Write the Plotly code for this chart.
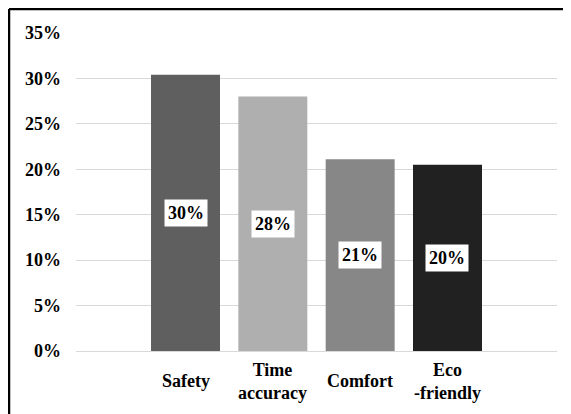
import plotly.graph_objects as go

categories = ["Safety", "Time accuracy", "Comfort", "Eco -friendly"]
category_labels = ["Safety", "Time<br>accuracy", "Comfort", "Eco<br>-friendly"]
values = [0.304, 0.280, 0.211, 0.205]
value_labels = ["30%", "28%", "21%", "20%"]
bar_colors = ["#5f5f5f", "#afafaf", "#878787", "#212121"]

W, H = 571, 414
ml, mr, mt, mb = 68, 22, 25, 71
pw, ph = W - ml - mr, H - mt - mb

font_family = "Liberation Serif"

fig = go.Figure()
fig.add_trace(go.Bar(
    x=categories, y=values,
    marker=dict(color=bar_colors, line=dict(width=0)),
    width=0.79,
    hoverinfo="skip",
))

annotations = []
for cat, v, lab in zip(categories, values, value_labels):
    annotations.append(dict(
        x=cat, y=v / 2, xref="x", yref="y", text=lab,
        showarrow=False, bgcolor="white", borderpad=3,
        font=dict(family=font_family, size=18, color="black", weight="bold"),
        xanchor="center", yanchor="middle",
    ))
for cat, lab in zip(categories, category_labels):
    annotations.append(dict(
        x=cat, y=-30 / ph, xref="x", yref="paper", text=lab,
        showarrow=False,
        font=dict(family=font_family, size=18, color="black", weight="bold"),
        xanchor="center", yanchor="middle",
    ))

# outer frame (top and left edges visible)
fx0 = (1 - ml) / pw
fx1 = (W + 20 - ml) / pw
fy1 = (H - mb - 1) / ph
fy0 = -(mb + 20) / ph
shapes = [
    dict(type="line", xref="paper", yref="paper", x0=fx0, x1=fx1, y0=fy1, y1=fy1,
         line=dict(color="black", width=2.5)),
    dict(type="line", xref="paper", yref="paper", x0=fx0, x1=fx0, y0=fy0, y1=fy1,
         line=dict(color="black", width=2.5)),
]

fig.update_layout(
    width=W, height=H,
    margin=dict(l=ml, r=mr, t=mt, b=mb, pad=0),
    paper_bgcolor="white", plot_bgcolor="white",
    showlegend=False,
    font=dict(family=font_family),
    annotations=annotations,
    shapes=shapes,
    xaxis=dict(
        type="category", range=[-1.254, 4.254],
        showticklabels=False, showgrid=False, zeroline=False, showline=False,
        ticks="",
    ),
    yaxis=dict(
        range=[0, 0.35], dtick=0.05, tickformat=".0%",
        showgrid=True, gridcolor="#d9d9d9", gridwidth=1,
        zeroline=True, zerolinecolor="#d9d9d9", zerolinewidth=1,
        showline=False, ticks="", ticklabelstandoff=14,
        tickfont=dict(family=font_family, size=18, color="black", weight="bold"),
    ),
)

fig.write_html("out.html")
